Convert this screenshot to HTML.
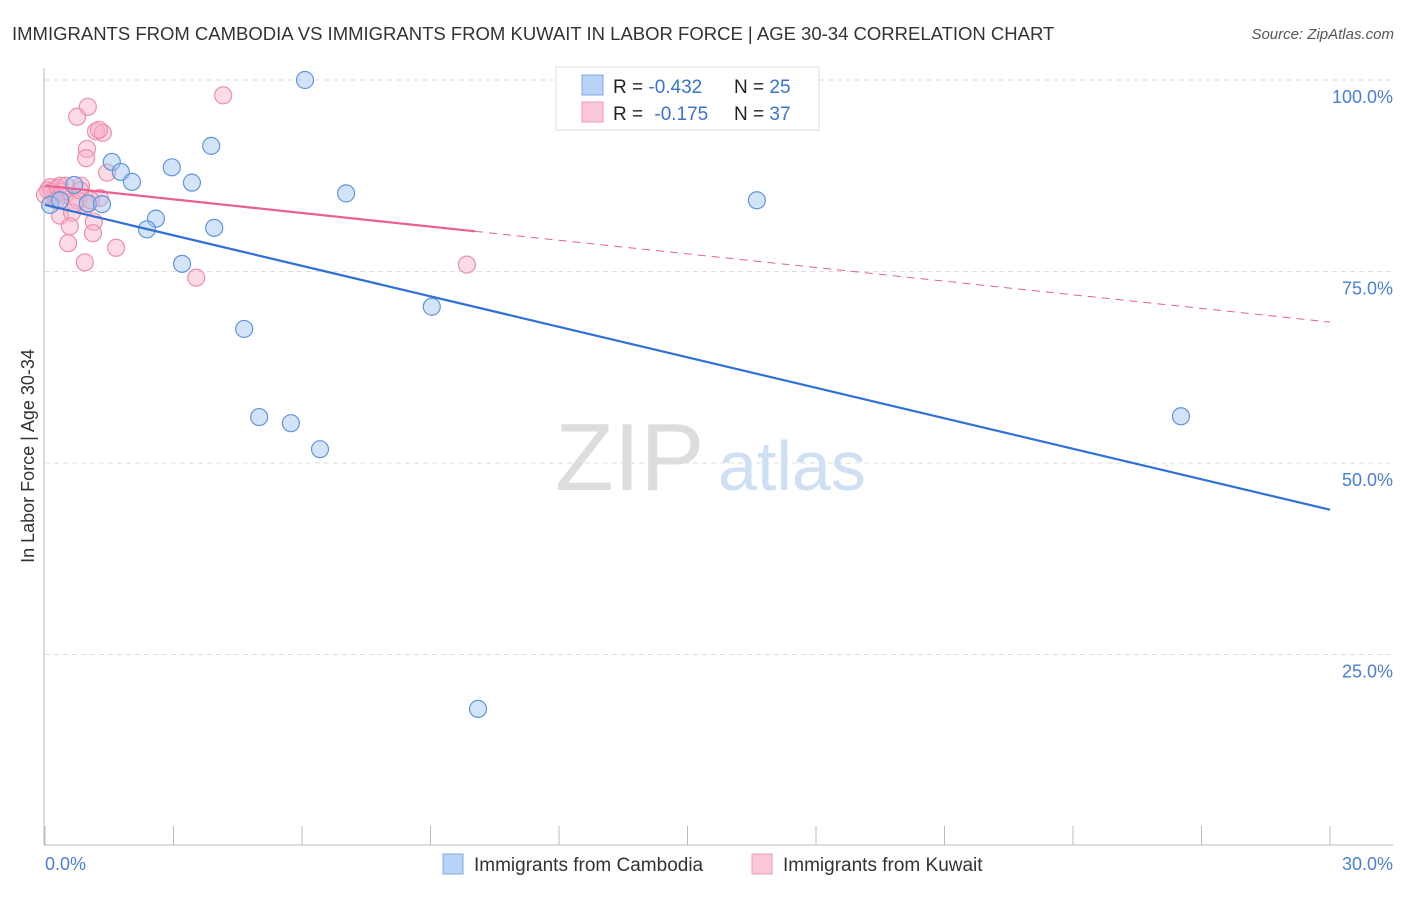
<!DOCTYPE html>
<html><head><meta charset="utf-8"><style>
body{margin:0;background:#fff;font-family:"Liberation Sans",sans-serif;}
svg text{font-family:"Liberation Sans",sans-serif;}
</style></head><body>
<svg id="chart" width="1406" height="892" viewBox="0 0 1406 892">
<text x="12" y="40" font-size="18.5" fill="#333">IMMIGRANTS FROM CAMBODIA VS IMMIGRANTS FROM KUWAIT IN LABOR FORCE | AGE 30-34 CORRELATION CHART</text>
<text x="1394" y="39" font-size="15" fill="#555" font-style="italic" text-anchor="end">Source: ZipAtlas.com</text>
<g id="grid"></g>
<g id="axes"></g>
<text x="555" y="490" font-size="96" fill="#ddd" font-family="Liberation Serif">ZIP</text>
<text x="718" y="490" font-size="70" fill="#cfe0f5">atlas</text>
<g id="pts"></g>
<g id="trends"></g>
<text transform="translate(34,456) rotate(-90)" font-size="18" fill="#333" text-anchor="middle">In Labor Force | Age 30-34</text>
<text x="45" y="870" font-size="18" fill="#4a7fd4">0.0%</text>
<text x="1393" y="870" font-size="18" fill="#4a7fd4" text-anchor="end">30.0%</text>
<g>
<rect x="556" y="67" width="263" height="63" fill="#fff" stroke="#ddd"/>
<rect x="582" y="75" width="21" height="20" fill="#b8d3f6" stroke="#7fa9e6"/>
<rect x="582" y="102" width="21" height="20" fill="#fcc8d8" stroke="#ef9ab6"/>
<text x="613" y="93" font-size="19" fill="#222">R = <tspan fill="#3a73d0">-0.432</tspan></text>
<text x="734" y="93" font-size="19" fill="#222">N = <tspan fill="#3a73d0">25</tspan></text>
<text x="613" y="120" font-size="19" fill="#222">R = <tspan fill="#3a73d0" dx="6">-0.175</tspan></text>
<text x="734" y="120" font-size="19" fill="#222">N = <tspan fill="#3a73d0">37</tspan></text>
</g>
<g>
<rect x="443" y="854" width="20" height="20" fill="#b8d3f6" stroke="#7fa9e6"/>
<text x="474" y="871" font-size="19" fill="#333">Immigrants from Cambodia</text>
<rect x="752" y="854" width="20" height="20" fill="#fcc8d8" stroke="#ef9ab6"/>
<text x="783" y="871" font-size="19" fill="#333">Immigrants from Kuwait</text>
</g>
</svg>
<script>
const yTicks=[25,50,75,100];
const yTickLabels=["25.0%","50.0%","75.0%","100.0%"];
const xTicks=[0,3,6,9,12,15,18,21,24,27,30];
const cambodiaX=[6.07,3.88,2.96,1.56,1.77,2.03,3.43,7.03,16.62,0.68,1.00,1.33,0.12,2.59,2.38,3.95,3.20,9.03,4.65,5.00,5.74,26.52,6.42,10.11,0.35];
const cambodiaY=[100.0,91.4,88.6,89.3,88.0,86.7,86.6,85.2,84.3,86.3,83.9,83.8,83.7,81.9,80.5,80.7,76.0,70.4,67.5,56.0,55.2,56.1,51.8,17.9,84.3];
const kuwaitX=[4.16,1.00,0.75,1.19,1.35,1.26,0.98,0.96,1.45,0.84,0.12,0.35,0.23,0.47,0.77,1.28,1.00,0.35,0.63,1.14,0.58,1.12,0.54,1.66,0.93,3.53,9.85,0.07,0.16,0.0,0.30,0.40,0.26,0.70,0.82,0.49,1.07];
const kuwaitY=[98.0,96.5,95.2,93.3,93.1,93.5,91.0,89.8,87.9,86.2,86.0,86.2,84.9,85.0,84.3,84.6,83.8,82.3,82.7,81.5,80.9,80.0,78.7,78.1,76.2,74.2,75.9,85.6,85.4,85.0,85.9,85.4,84.3,83.9,85.6,86.2,84.3];
const cambodiaTrend=[83.7,43.9];
const kuwaitTrend=[86.2,68.4];
const kuwaitSolidEnd=10.04;
const NS="http://www.w3.org/2000/svg";
const sx=v=>45+v*1285/30;
const sy=v=>846-v*7.66;
function mk(t,a,p){const e=document.createElementNS(NS,t);for(const k in a)e.setAttribute(k,a[k]);p.appendChild(e);return e;}
const grid=document.getElementById('grid'),axes=document.getElementById('axes'),pts=document.getElementById('pts'),tr=document.getElementById('trends');
yTicks.forEach((v,i)=>{
 const l=mk('line',{x1:45,x2:1393,y1:sy(v),y2:sy(v),stroke:'#ddd','stroke-dasharray':'5,4'},grid);
 
 
 const t=mk('text',{x:1393,y:sy(v)+23,'font-size':18,fill:'#4a7fd4','text-anchor':'end'},axes);
 t.textContent=yTickLabels[i];
 
 
});
const ya=mk('line',{x1:44,x2:44,y1:68,y2:845,stroke:'#bbb'},axes);


const xa=mk('line',{x1:44,x2:1393,y1:845,y2:845,stroke:'#bbb'},axes);


xTicks.forEach(v=>{
 const l=mk('line',{x1:sx(v),x2:sx(v),y1:826,y2:845,stroke:'#bbb'},axes);
 
 
});
function dots(X,Y,fill,stroke,name){X.forEach((x,i)=>{
 const c=mk('circle',{cx:sx(x),cy:sy(Y[i]),r:8.5,fill:fill,stroke:stroke,'stroke-width':1.2},pts);
 
 
});}
dots(kuwaitX,kuwaitY,'rgba(248,175,198,0.45)','#eb8fae','kuwait-point');
dots(cambodiaX,cambodiaY,'rgba(160,196,240,0.45)','#5f95dd','cambodia-point');
const b=mk('line',{x1:sx(0),y1:sy(cambodiaTrend[0]),x2:sx(30),y2:sy(cambodiaTrend[1]),stroke:'#2f72d6','stroke-width':2.2},tr);


const kAt=x=>kuwaitTrend[0]+(kuwaitTrend[1]-kuwaitTrend[0])*x/30;
const p1=mk('line',{x1:sx(0),y1:sy(kAt(0)),x2:sx(kuwaitSolidEnd),y2:sy(kAt(kuwaitSolidEnd)),stroke:'#e8618f','stroke-width':2.2},tr);


const p2=mk('line',{x1:sx(kuwaitSolidEnd),y1:sy(kAt(kuwaitSolidEnd)),x2:sx(30),y2:sy(kAt(30)),stroke:'#e8618f','stroke-width':1,'stroke-dasharray':'8,6'},tr);


</script>
</body></html>
